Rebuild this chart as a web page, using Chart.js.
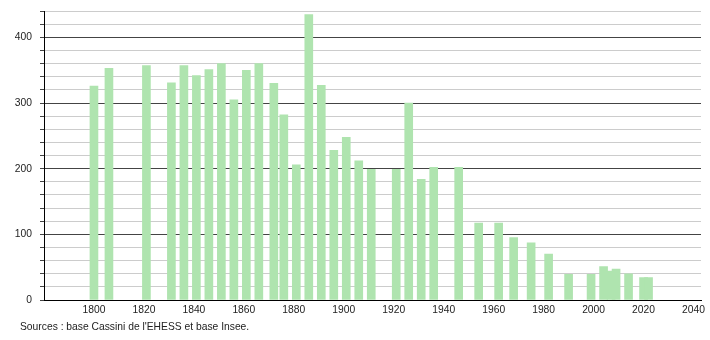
<!DOCTYPE html>
<html>
<head>
<meta charset="utf-8">
<script src="https://cdn.jsdelivr.net/npm/chart.js@4"></script>
<style>
  html, body { margin: 0; padding: 0; background: #fff; }
  #wrap { position: relative; width: 710px; height: 340px; overflow: hidden; }
  #PopulationChart { position: absolute; left: 0; top: -3px; }
  #source {
    position: absolute; left: 20px; top: 321px;
    font: 10.3px "Liberation Sans", Arial, sans-serif; color: #222;
  }
</style>
</head>
<body>
<div id="wrap">
  <canvas id="PopulationChart" width="710" height="343"></canvas>
  <div id="source">Sources : base Cassini de l'EHESS et base Insee.</div>
</div>
<script>
//
// Data
var years = [1800, 1806, 1821, 1831, 1836, 1841, 1846, 1851, 1856, 1861, 1866, 1872, 1876,
             1881, 1886, 1891, 1896, 1901, 1906, 1911, 1921, 1926, 1931, 1936, 1946, 1954,
             1962, 1968, 1975, 1982, 1990, 1999, 2004, 2007, 2009, 2014, 2020, 2022];
var population = [326, 353, 357, 331, 357, 342, 351, 360, 305, 350, 360, 330, 282,
                  206, 435, 327, 228, 248, 212, 199, 199, 300, 184, 202, 202, 117,
                  117, 95, 87, 70, 39, 39, 51, 44, 47, 40, 34, 34];
var year_ticks = [1800, 1820, 1840, 1860, 1880, 1900, 1920, 1940, 1960, 1980, 2000, 2020, 2040];

var points = [];
for (var i = 0; i < years.length; i++) {
    points.push({x: years[i], y: population[i]});
}

var font = {family: '"Liberation Sans", Arial, sans-serif', size: 10.3};

//
// Draw Chart
new Chart(document.getElementById('PopulationChart').getContext('2d'), {
    type: 'bar',
    data: {
        datasets: [{
            data: points,
            backgroundColor: '#afe4af',
            barThickness: 8,
            borderWidth: 0
        }]
    },
    options: {
        responsive: false,
        animation: false,
        layout: { padding: { left: 0, right: 9, top: 6, bottom: 0 } },
        plugins: {
            legend: { display: false },
            tooltip: { enabled: false }
        },
        scales: {
            x: {
                type: 'linear',
                offset: false,
                min: 1780,
                max: 2043,
                afterBuildTicks: function(scale) {
                    scale.ticks = year_ticks.map(function(v) { return {value: v}; });
                },
                afterFit: function(scale) { scale.height = 40; },
                grid: { display: false, drawTicks: false, offset: false },
                border: { color: '#000', width: 1 },
                ticks: { color: '#222', font: font, padding: 4, maxRotation: 0, autoSkip: false,
                         callback: function(v) { return String(v); } }
            },
            y: {
                min: 0,
                max: 440,
                afterFit: function(scale) { scale.width = 44; },
                ticks: {
                    stepSize: 20,
                    color: '#222',
                    font: font,
                    padding: 8,
                    autoSkip: false,
                    callback: function(v) { return v % 100 === 0 ? v : ''; }
                },
                grid: {
                    tickLength: 4,
                    color: function(ctx) { return ctx.tick.value % 100 === 0 ? '#444' : '#cccccc'; },
                    tickColor: '#444'
                },
                border: { color: '#000', width: 1 }
            }
        }
    }
});
</script>
</body>
</html>
